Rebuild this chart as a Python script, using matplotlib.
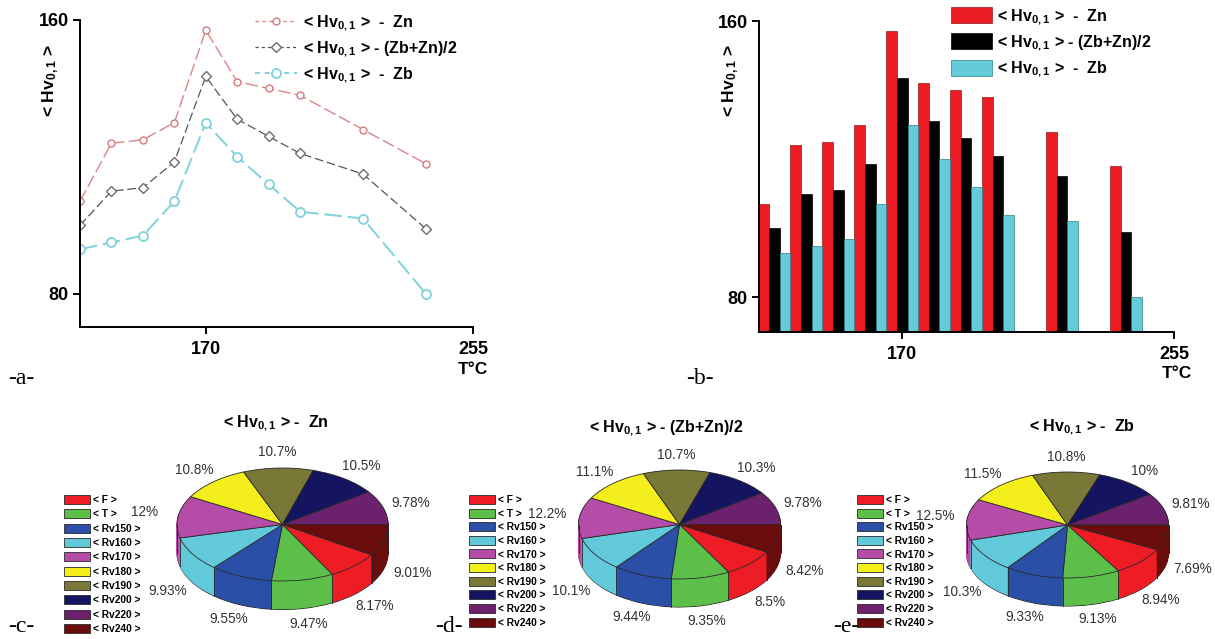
import matplotlib
matplotlib.use('Agg')
import matplotlib.pyplot as plt
import numpy as np

plt.rcParams['font.family'] = ['Liberation Sans', 'DejaVu Sans']
plt.rcParams['mathtext.fontset'] = 'custom'
plt.rcParams['mathtext.bf'] = 'Liberation Sans:bold'
plt.rcParams['mathtext.rm'] = 'Liberation Sans:bold'
plt.rcParams['mathtext.default'] = 'bf'

# ---------------- data ----------------
temps = [130, 140, 150, 160, 170, 180, 190, 200, 220, 240]
hv_zn = [107, 124, 125, 130, 157, 142, 140, 138, 128, 118]
hv_avg = [100, 110, 111, 118.5, 143.5, 131, 126, 121, 115, 99]
hv_zb = [93, 95, 97, 107, 130, 120, 112, 104, 102, 80]
x_ticks = [170, 255]
y_ticks = [80, 160]

categories = ['< F >', '< T >', '< Rv150 >', '< Rv160 >', '< Rv170 >',
              '< Rv180 >', '< Rv190 >', '< Rv200 >', '< Rv220 >', '< Rv240 >']
pct_zn = [8.17, 9.47, 9.55, 9.93, 12, 10.8, 10.7, 10.5, 9.78, 9.01]
pct_avg = [8.5, 9.35, 9.44, 10.1, 12.2, 11.1, 10.7, 10.3, 9.78, 8.42]
pct_zb = [8.94, 9.13, 9.33, 10.3, 12.5, 11.5, 10.8, 10, 9.81, 7.69]

series_labels = [r'< Hv$_{0,1}$ >  -  Zn', r'< Hv$_{0,1}$ > - (Zb+Zn)/2', r'< Hv$_{0,1}$ >  -  Zb']
pie_titles = [r'< Hv$_{0,1}$ > -  Zn', r'< Hv$_{0,1}$ > - (Zb+Zn)/2', r'< Hv$_{0,1}$ > -  Zb']
ylab = r'< Hv$_{0,1}$ >'

pie_colors = ['#ee1c25', '#5cbf4a', '#2b4fa6', '#62c9da', '#b54ca8',
              '#f4ee1c', '#7a7836', '#141460', '#6c216e', '#6b0c0c']

W, H = 1215, 639
fig = plt.figure(figsize=(W / 100, H / 100), dpi=100)


def fax(l, t, r, b):
    return fig.add_axes([l / W, 1 - b / H, (r - l) / W, (b - t) / H])


def fx(x):
    return x / W


def fy(y):
    return 1 - y / H


def style_axes(ax):
    for s in ['top', 'right']:
        ax.spines[s].set_visible(False)
    for s in ['left', 'bottom']:
        ax.spines[s].set_linewidth(1.4)
    ax.set_xticks(x_ticks)
    ax.set_yticks(y_ticks)
    ax.tick_params(direction='out', length=5, width=1.4, labelsize=13)
    ax.tick_params(axis='x', pad=5)
    ax.tick_params(axis='y', pad=3)
    for lab in ax.get_xticklabels() + ax.get_yticklabels():
        lab.set_fontweight('bold')


# ---------------- chart a ----------------
ax1 = fax(80, 20, 473, 327)
ax1.plot(temps, hv_zn, color='#dc8488', lw=1.0, dashes=(9, 3), marker='o', ms=5,
         mfc='white', mec='#d4787c', mew=1.0, label=series_labels[0])
ax1.plot(temps, hv_avg, color='#555555', lw=0.9, dashes=(7, 3), marker='D', ms=5.5,
         mfc='white', mec='#6e6e6e', mew=1.0, label=series_labels[1])
ax1.plot(temps, hv_zb, color='#7fd2dc', lw=1.4, dashes=(9, 3), marker='o', ms=6.5,
         mfc='white', mec='#7fd2dc', mew=1.3, label=series_labels[2])
ax1.set_xlim(130, 255)
ax1.set_ylim(70.3, 160)
style_axes(ax1)
leg1 = ax1.legend(loc='upper left', bbox_to_anchor=(fx(255), fy(13)), bbox_transform=fig.transFigure,
                  frameon=False, fontsize=11.5, handlelength=2.6, handletextpad=0.4,
                  labelspacing=0.42, borderpad=0, borderaxespad=0)
for t in leg1.get_texts():
    t.set_fontweight('bold')
for h in leg1.get_lines():
    h.set_dashes((2.5, 2.5))

# ---------------- chart b ----------------
ax2 = fax(759, 21, 1174, 332)
bw = 3.3
xs = np.array(temps, dtype=float)
ax2.bar(xs - bw, hv_zn, width=bw, color='#ec1c24', edgecolor='#9a1a1a', lw=0.5, label=series_labels[0])
ax2.bar(xs, hv_avg, width=bw, color='#000000', edgecolor='#000000', lw=0.5, label=series_labels[1])
ax2.bar(xs + bw, hv_zb, width=bw, color='#66cbd9', edgecolor='#2f7f8a', lw=0.5, label=series_labels[2])
ax2.set_xlim(125.2, 255)
ax2.set_ylim(70, 160)
style_axes(ax2)
leg2 = ax2.legend(loc='upper left', bbox_to_anchor=(fx(951), fy(7)), bbox_transform=fig.transFigure,
                  frameon=False, fontsize=11.5, handlelength=2.55, handleheight=1.15, handletextpad=0.35,
                  labelspacing=0.42, borderpad=0, borderaxespad=0)
for t in leg2.get_texts():
    t.set_fontweight('bold')

# axis labels / captions
for xl in [51, 731]:
    fig.text(fx(xl), fy(80), ylab, rotation=90, ha='center', va='center', fontsize=12.5, fontweight='bold')
fig.text(fx(473), fy(370), 'T°C', ha='center', va='center', fontsize=12.5, fontweight='bold')
fig.text(fx(1177), fy(373), 'T°C', ha='center', va='center', fontsize=12.5, fontweight='bold')
for lbl, (x, y) in zip(['-a-', '-b-', '-c-', '-d-', '-e-'],
                       [(21, 378), (700, 378), (21, 627), (449, 627), (846, 627)]):
    fig.text(fx(x), fy(y), lbl, ha='center', va='center', fontsize=17, family='Liberation Serif')


# ---------------- pies ----------------
def draw_pie(pcts, cx, cy, a, b, depth, title, title_xy, leg_xy, leg_sp):
    ax = fig.add_axes([(cx - 1.6 * a) / W, 1 - (cy + 2.2 * b) / H, 3.2 * a / W, 3.8 * b / H])
    D = depth / b
    start = -360.0 * pcts[-1] / sum(pcts)
    offs = np.linspace(-D, 0, 34)[:-1]
    for i, off in enumerate(offs):
        ws, _ = ax.pie(pcts, colors=pie_colors, startangle=start, counterclock=False,
                       center=(0, off), wedgeprops=dict(linewidth=0.8))
        for w in ws:
            if i == 0:
                w.set_edgecolor('#252525')
                w.set_linewidth(0.7)
            else:
                w.set_edgecolor(w.get_facecolor())
    wedges, _ = ax.pie(pcts, colors=pie_colors, startangle=start, counterclock=False,
                       center=(0, 0), wedgeprops=dict(edgecolor='#2a2a2a', linewidth=0.6))
    bounds = set()
    for w in wedges:
        bounds.add(round(w.theta1 % 360, 4))
        bounds.add(round(w.theta2 % 360, 4))
    for th in list(bounds) + [180.0, 0.0]:
        r = np.deg2rad(th)
        if np.sin(r) < 0.001:
            ax.plot([np.cos(r), np.cos(r)], [np.sin(r), np.sin(r) - D], color='#252525', lw=0.6)
    for w, p in zip(wedges, pcts):
        mid = np.deg2rad((w.theta1 + w.theta2) / 2)
        tx = 1.28 * np.cos(mid)
        ty = 1.28 * np.sin(mid) - (D if np.sin(mid) < 0 else 0)
        if abs(np.cos(mid)) > 0.97 and np.sin(mid) > 0:
            tx += 0.04 * np.sign(np.cos(mid))
            ty += 0.04
        ax.text(tx, ty, '{:g}%'.format(p), ha='center', va='center', fontsize=9.8, color='#333333')
    ax.set_aspect('auto')
    ax.set_xlim(-1.6, 1.6)
    ax.set_ylim(-2.2, 1.6)
    ax.set_axis_off()
    fig.text(fx(title_xy[0]), fy(title_xy[1]), title, ha='center', va='baseline', fontsize=11.5, fontweight='bold')
    leg = ax.legend(wedges, categories, loc='upper left', bbox_to_anchor=(fx(leg_xy[0]), fy(leg_xy[1])),
                    bbox_transform=fig.transFigure, frameon=False, fontsize=7.4, handlelength=2.5,
                    handleheight=0.97, handletextpad=0.3, labelspacing=leg_sp, borderpad=0, borderaxespad=0)
    for t in leg.get_texts():
        t.set_fontweight('bold')


draw_pie(pct_zn, 282.5, 524.5, 105.5, 56.5, 28.5, pie_titles[0], (276, 427), (64, 495), 0.42)
draw_pie(pct_avg, 679.5, 524.5, 101, 54.5, 28, pie_titles[1], (666, 432), (469, 495), 0.35)
draw_pie(pct_zb, 1067.5, 525, 101, 53, 28, pie_titles[2], (1082, 431), (857, 495), 0.35)

fig.savefig('out.png', dpi=100)
